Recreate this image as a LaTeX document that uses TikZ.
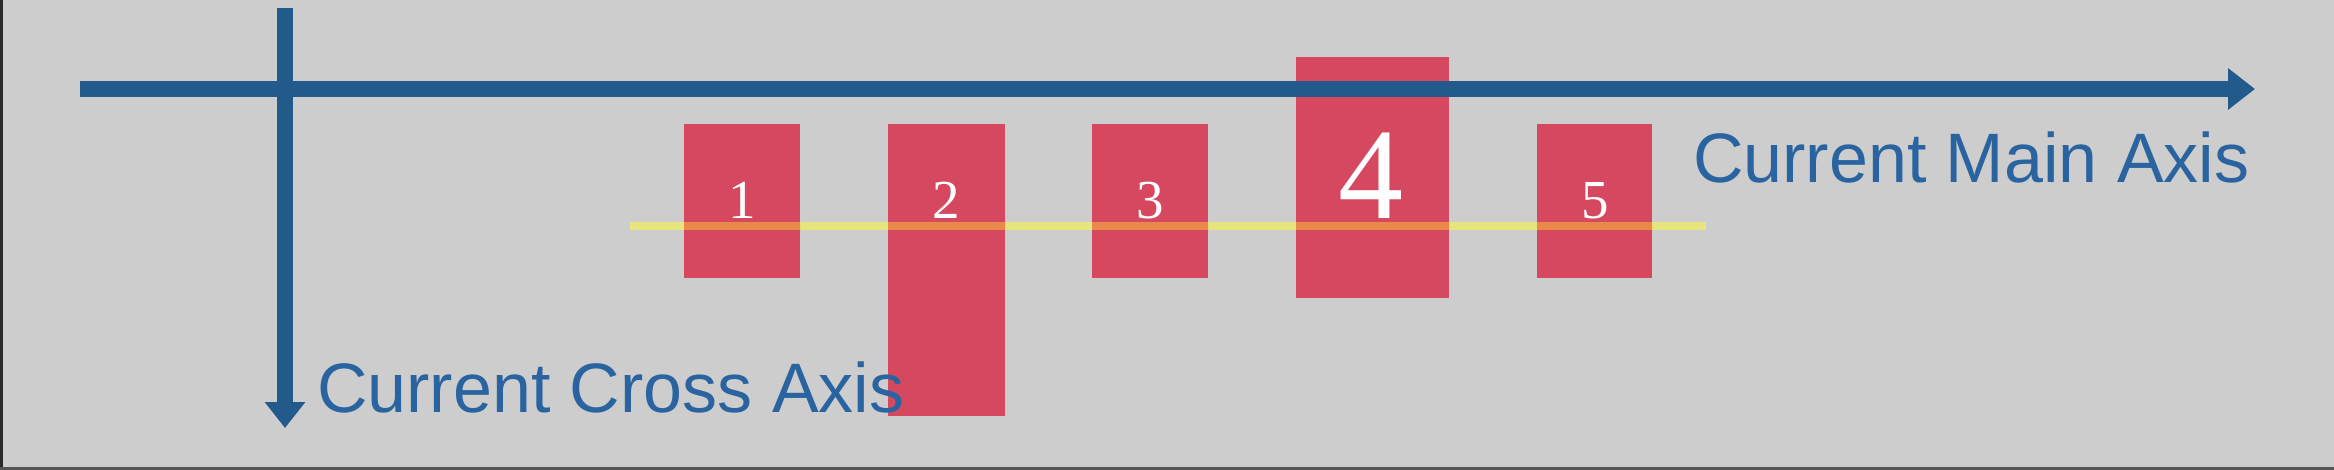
\documentclass[tikz,border=0pt]{standalone}
\usepackage{fontspec}
\setmainfont{Liberation Serif}
\newfontfamily\axisfont{Liberation Sans}
\usetikzlibrary{arrows.meta}
\definecolor{bgcol}{HTML}{CDCDCD}
\definecolor{boxred}{HTML}{D5485F}
\definecolor{axisblue}{HTML}{235A8C}
\definecolor{textblue}{HTML}{2A64A0}
\definecolor{lineyellow}{HTML}{E6E67C}
\definecolor{lineorange}{HTML}{E98A4C}
\definecolor{edgedark}{HTML}{2A2A2A}
\tikzset{
  itembox/.style={fill=boxred, draw=none, inner sep=0pt, outer sep=0pt, anchor=north west},
  digit/.style={text=white, anchor=base, inner sep=0pt, font=\fontsize{55}{55}\selectfont},
  bigdigit/.style={text=white, anchor=base, inner sep=0pt, font=\fontsize{130}{130}\selectfont},
  axisline/.style={draw=axisblue, line width=16pt},
  axislabel/.style={text=textblue, anchor=base west, inner sep=0pt, font=\axisfont\fontsize{70}{70}\selectfont},
  baseline/.style={line width=8pt}
}
\begin{document}
\begin{tikzpicture}[x=1pt,y=-1pt]
  \fill[bgcol] (0,0) rectangle (2334,470);
  \useasboundingbox (0,0) rectangle (2334,470);
  \fill[edgedark] (0,0) rectangle (3,470);
  \fill[edgedark!80] (0,467) rectangle (2334,470);
  % boxes
  \node[itembox, minimum width=116pt, minimum height=154pt] (b1) at (684,124) {};
  \node[itembox, minimum width=117pt, minimum height=292pt] (b2) at (888,124) {};
  \node[itembox, minimum width=116pt, minimum height=154pt] (b3) at (1092,124) {};
  \node[itembox, minimum width=153pt, minimum height=241pt] (b4) at (1296,57) {};
  \node[itembox, minimum width=115pt, minimum height=154pt] (b5) at (1537,124) {};
  % cross-axis baseline
  \coordinate (ls) at (630,226);
  \coordinate (le) at (1706,226);
  \draw[baseline, draw=lineyellow] (ls) -- (le);
  \begin{scope}
    \clip (b1.north west) rectangle (b1.south east)
          (b2.north west) rectangle (b2.south east)
          (b3.north west) rectangle (b3.south east)
          (b4.north west) rectangle (b4.south east)
          (b5.north west) rectangle (b5.south east);
    \draw[baseline, draw=lineorange] (ls) -- (le);
  \end{scope}
  % digits
  \node[digit] (d1) at (742,219) {1};
  \node[digit] (d2) at (946,219) {2};
  \node[digit] (d3) at (1150,219) {3};
  \node[bigdigit] (d4) at (1371,219) {4};
  \node[digit] (d5) at (1595,219) {5};
  % axes
  \coordinate (ms) at (80,89);
  \coordinate (me) at (2255,89);
  \coordinate (cs) at (285,8);
  \coordinate (ce) at (285,428);
  \draw[axisline, -{Triangle[length=27pt, width=40pt]}] (ms) -- (me);
  \draw[axisline, -{Triangle[length=26pt, width=39pt]}] (cs) -- (ce);
  % labels
  \node[axislabel] (mainlab) at (1693,183) {Current Main Axis};
  \node[axislabel] (crosslab) at (317,412) {Current Cross Axis};
\end{tikzpicture}
\end{document}
